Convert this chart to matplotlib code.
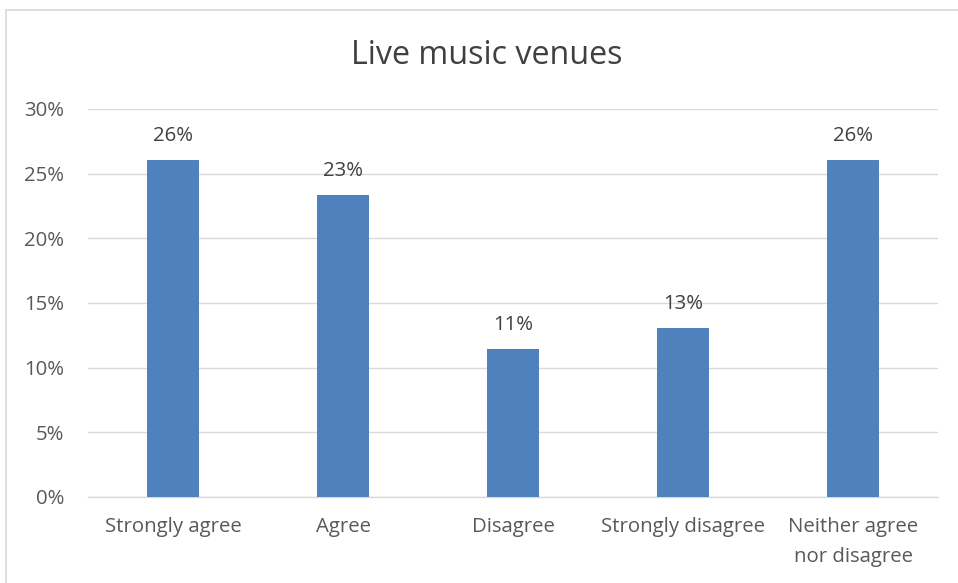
import matplotlib
matplotlib.use("Agg")
import matplotlib.pyplot as plt
from matplotlib.patches import Rectangle
from matplotlib.ticker import PercentFormatter

categories = ["Strongly agree", "Agree", "Disagree", "Strongly disagree", "Neither agree\nnor disagree"]
values = [26.06, 23.36, 11.45, 13.07, 26.06]
labels = ["26%", "23%", "11%", "13%", "26%"]
yticks = [0, 5, 10, 15, 20, 25, 30]

plt.rcParams['font.family'] = ['Open Sans', 'DejaVu Sans']

W, H = 958, 583
fig = plt.figure(figsize=(W/100, H/100), dpi=100)
fig.patch.set_facecolor("white")

# chart border
fig.patches.append(Rectangle((6/W, -0.1), 1.2, 1 - 10/H + 0.1, transform=fig.transFigure,
                             fill=False, edgecolor="#d9d9d9", linewidth=1.2))

left, right, top, bottom = 88/W, 938/W, 109/H, 497/H
ax = fig.add_axes([left, 1 - bottom, right - left, bottom - top])

fs = 14.7
x = range(len(categories))
ax.bar(x, values, width=0.31, color="#4f81bd", zorder=3)
for xi, v, lab in zip(x, values, labels):
    ax.text(xi, v + 1.05, lab, ha="center", va="bottom", fontsize=fs, color="#404040")

ax.set_ylim(0, 30)
ax.set_xlim(-0.5, len(categories) - 0.5)
ax.set_yticks(yticks)
ax.yaxis.set_major_formatter(PercentFormatter(decimals=0))
ax.set_xticks(list(x))
ax.set_xticklabels(categories, fontsize=fs, color="#595959", linespacing=1.65)
ax.tick_params(axis="y", labelsize=fs, labelcolor="#595959", length=0, pad=17)
ax.tick_params(axis="x", length=0, pad=14.5)
ax.grid(axis="y", color="#d9d9d9", linewidth=1, zorder=0)
for s in ["top", "right", "left"]:
    ax.spines[s].set_visible(False)
ax.spines["bottom"].set_color("#d9d9d9")
ax.spines["bottom"].set_linewidth(1)

fig.text(487/W, 1 - 55/H, "Live music venues", ha="center", va="center",
         fontsize=23.2, color="#404040")

fig.savefig("out.png", dpi=100)
